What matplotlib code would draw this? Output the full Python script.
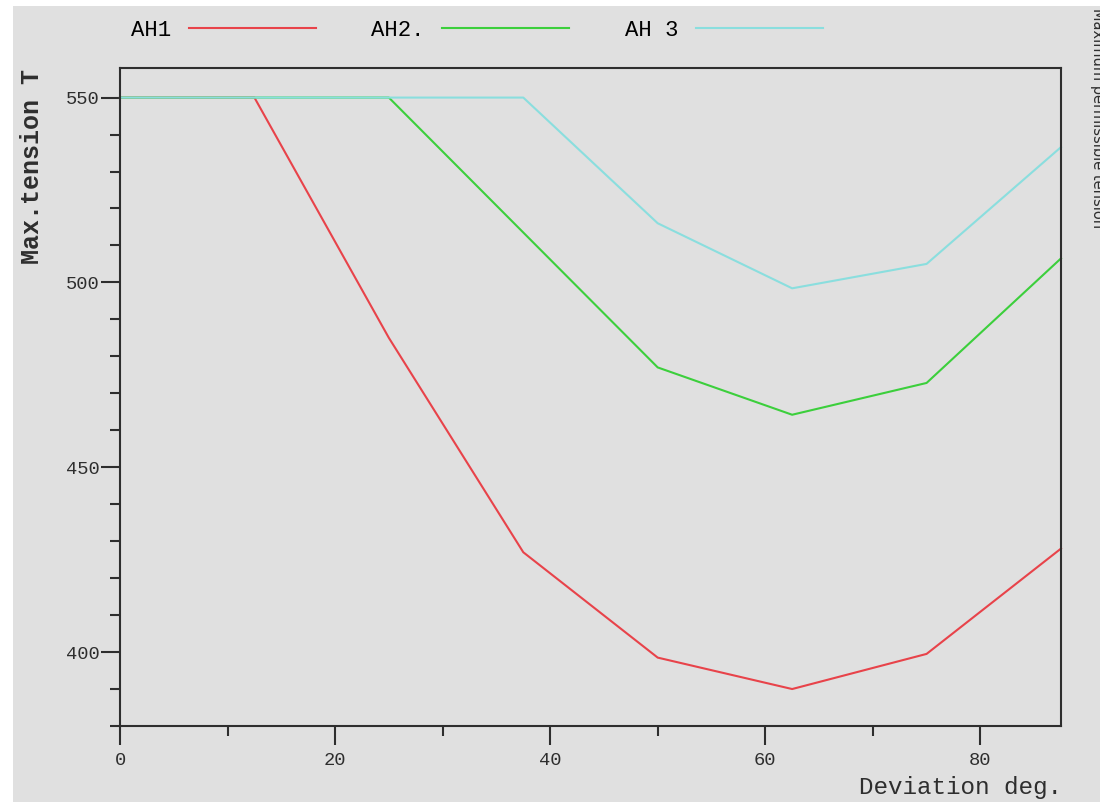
import matplotlib.pyplot as plt
from matplotlib.patches import Rectangle
from matplotlib.ticker import MultipleLocator

# Abweichung (deg) und max. Zugkraft (T) je Kurve
deviation = [0, 12.5, 25, 37.5, 50, 62.5, 75, 87.5]
ah1 = [550, 550, 485, 427, 398.5, 390, 399.5, 428]
ah2 = [550, 550, 550, 513.5, 477, 464.2, 472.8, 506.5]
ah3 = [550, 550, 550, 550, 516, 498.4, 505, 536.6]

labels = ["AH1", "AH2.", "AH 3"]
colors = ["#e8434a", "#3ccf3c", "#8adede"]

mono = "Liberation Mono"
bg = "#e0e0e0"
ink = "#2e2e2e"

fig = plt.figure(figsize=(11, 8.02), dpi=100)
fig.patch.set_facecolor("white")
fig.patches.append(Rectangle((13 / 1100, 0), 1, 1 - 6 / 802, transform=fig.transFigure,
                             facecolor=bg, edgecolor="none", zorder=-10))

ax = fig.add_axes([120 / 1100, 1 - 726 / 802, 941 / 1100, 658 / 802])
ax.set_facecolor(bg)

lines = []
for y, lab, c in zip([ah1, ah2, ah3], labels, colors):
    ln, = ax.plot(deviation, y, color=c, lw=1.5, label=lab, clip_on=False)
    lines.append(ln)

ax.set_xlim(0, 87.5)
ax.set_ylim(380, 558)
ax.xaxis.set_major_locator(MultipleLocator(20))
ax.xaxis.set_minor_locator(MultipleLocator(10))
ax.yaxis.set_major_locator(MultipleLocator(50))
ax.yaxis.set_minor_locator(MultipleLocator(10))
ax.tick_params(which="major", length=14, width=1.5, color=ink, labelsize=13.5)
ax.tick_params(axis="y", which="major", pad=0.5)
ax.tick_params(axis="x", which="major", pad=5)
ax.tick_params(which="minor", length=7, width=1.5, color=ink)
for lab in ax.get_xticklabels() + ax.get_yticklabels():
    lab.set_family(mono)
    lab.set_color(ink)
for sp in ax.spines.values():
    sp.set_color(ink)
    sp.set_linewidth(1.5)

# Achsenbeschriftungen
fig.text(32 / 1100, 1 - 166 / 802, "Max.tension T", rotation=90, ha="center", va="center",
         family=mono, fontsize=18, fontweight="bold", color=ink)
fig.text(1062 / 1100, 1 - 799 / 802, "Deviation deg.", ha="right", va="bottom",
         family=mono, fontsize=17.5, color=ink)
fig.text(1097 / 1100, 1 - 8 / 802, "Maximum permissible tension", rotation=270,
         ha="center", va="top", fontsize=10.5, color=ink)

# Legende oben, Text vor der Linie
fig.legend(lines, labels, loc="center left", bbox_to_anchor=(111 / 1100, 1 - 30 / 802),
           ncol=3, markerfirst=False, frameon=False, handlelength=5.7,
           columnspacing=2.5, handletextpad=0.8,
           prop={"family": mono, "size": 16})

plt.savefig("out.png", dpi=100, facecolor=fig.get_facecolor())
